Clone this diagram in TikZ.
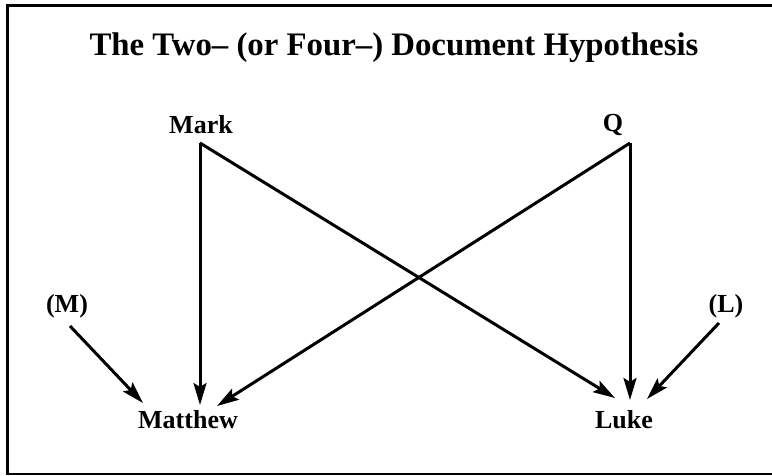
\documentclass[tikz,border=0pt]{standalone}
\usepackage{fontspec}
\setmainfont{Liberation Serif}
\usetikzlibrary{arrows.meta}
\begin{document}
\begin{tikzpicture}[x=1pt,y=-1pt,
  lbl/.style={font=\fontsize{26}{28}\selectfont\bfseries, inner sep=0pt},
  conn/.style={line width=3pt, -{Stealth[length=22pt,width=13pt,inset=4pt]}}]
\useasboundingbox (0,0) rectangle (772,475);
\fill[white] (0,0) rectangle (772,475);
% frame
\draw[line width=3.5pt] (7.5,475) -- (7.5,5.5) -- (772,5.5);
\draw[line width=2pt] (7.5,474) -- (772,474);
% title
\node[font=\fontsize{32.8}{34}\selectfont\bfseries, inner sep=0pt] (title) at (394,48) {The Two– (or Four–) Document Hypothesis};
% labels
\node[lbl] (mark) at (201,125) {Mark};
\node[lbl] (q) at (613,125) {Q};
\node[lbl] (m) at (67,306) {(M)};
\node[lbl] (l) at (726,306) {(L)};
\node[lbl] (matthew) at (188,420) {Matthew};
\node[lbl] (luke) at (624,420) {Luke};
% connector end points
\coordinate (markout) at (200,143);
\coordinate (qout) at (630,143);
\coordinate (mout) at (70,326);
\coordinate (lout) at (719,323);
\coordinate (mtM) at (143,403);
\coordinate (mtMark) at (200,405);
\coordinate (mtQ) at (217,406);
\coordinate (lkMark) at (615,398);
\coordinate (lkQ) at (630,400);
\coordinate (lkL) at (647,399);
% connectors
\draw[conn] (markout) -- (mtMark);
\draw[conn] (markout) -- (lkMark);
\draw[conn] (qout) -- (lkQ);
\draw[conn] (qout) -- (mtQ);
\draw[conn] (mout) -- (mtM);
\draw[conn] (lout) -- (lkL);
\end{tikzpicture}
\end{document}
